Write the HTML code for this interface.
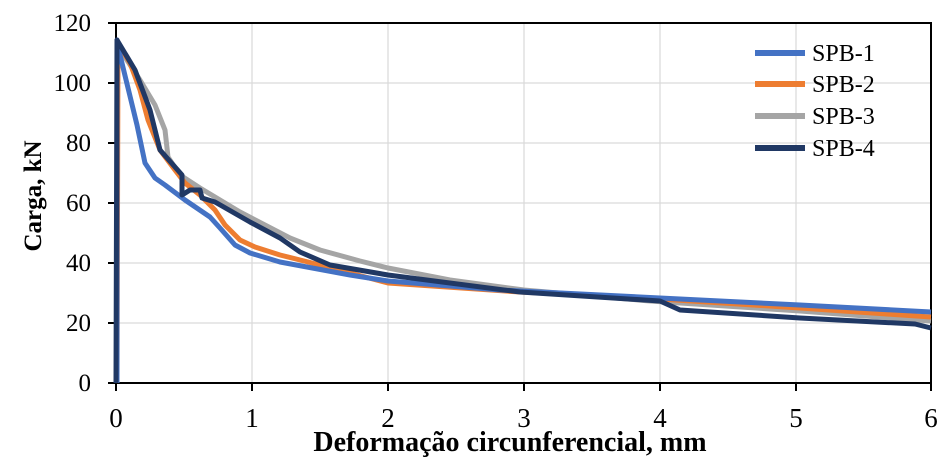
<!DOCTYPE html>
<html><head><meta charset="utf-8"><style>
html,body{margin:0;padding:0;background:#fff}
svg text{font-family:"Liberation Serif",serif}
</style></head><body>
<svg width="945" height="463" viewBox="0 0 945 463" xmlns="http://www.w3.org/2000/svg">
<g stroke="#d9d9d9" stroke-width="1.2">
<line x1="252" y1="23" x2="252" y2="383"/><line x1="388" y1="23" x2="388" y2="383"/><line x1="524" y1="23" x2="524" y2="383"/><line x1="660" y1="23" x2="660" y2="383"/><line x1="796" y1="23" x2="796" y2="383"/>
<line x1="116" y1="83" x2="931" y2="83"/><line x1="116" y1="143" x2="931" y2="143"/><line x1="116" y1="203" x2="931" y2="203"/><line x1="116" y1="263" x2="931" y2="263"/><line x1="116" y1="323" x2="931" y2="323"/>
</g>
<rect x="116" y="23" width="815" height="360" fill="none" stroke="#000" stroke-width="2"/>
<g stroke="#000" stroke-width="2">
<line x1="108" y1="23" x2="116" y2="23"/><line x1="108" y1="83" x2="116" y2="83"/><line x1="108" y1="143" x2="116" y2="143"/><line x1="108" y1="203" x2="116" y2="203"/><line x1="108" y1="263" x2="116" y2="263"/><line x1="108" y1="323" x2="116" y2="323"/><line x1="108" y1="383" x2="116" y2="383"/>
<line x1="116" y1="383" x2="116" y2="391"/><line x1="252" y1="383" x2="252" y2="391"/><line x1="388" y1="383" x2="388" y2="391"/><line x1="524" y1="383" x2="524" y2="391"/><line x1="660" y1="383" x2="660" y2="391"/><line x1="796" y1="383" x2="796" y2="391"/><line x1="931" y1="383" x2="931" y2="391"/>
</g>
<g font-size="25" text-anchor="end">
<text x="91" y="31">120</text><text x="91" y="91">100</text><text x="91" y="151">80</text><text x="91" y="211">60</text><text x="91" y="271">40</text><text x="91" y="331">20</text><text x="91" y="391">0</text>
</g>
<g font-size="27" text-anchor="middle">
<text x="116" y="427">0</text><text x="252" y="427">1</text><text x="388" y="427">2</text><text x="524" y="427">3</text><text x="660" y="427">4</text><text x="796" y="427">5</text><text x="931" y="427">6</text>
</g>
<text x="510" y="451" font-size="28" font-weight="bold" text-anchor="middle">Deformação circunferencial, mm</text>
<text transform="translate(41,196) rotate(-90)" font-size="25" font-weight="bold" text-anchor="middle">Carga, kN</text>
<g fill="none" stroke-width="5" stroke-linejoin="round">
<polyline stroke="#A5A5A5" points="117,383 117,45 140,80 155,105 165,130 168,157 180,175 200,188 240,212 290,238 320,250 360,261 388,268 450,280 524,290 650,301 800,311 931,321"/>
<polyline stroke="#ED7D31" points="117,383 118,43 130,63 140,90 148,120 160,150 175,170 185,183 200,195 215,210 225,225 240,240 255,247 280,255 320,265 388,283 520,292 660,299 800,308 931,317"/>
<polyline stroke="#4472C4" points="117,383 117,40 120,55 137,125 145,163 155,178 165,185 185,200 210,217 220,228 235,245 250,253 280,262 350,275 388,281 500,290 660,298 800,305 931,312"/>
<polyline stroke="#203864" points="116,383 117,40 135,70 150,110 160,150 175,167 182,175 182,195 190,190 200,190 202,198 215,202 250,222 280,238 300,252 330,265 388,275 520,292 660,301 680,310 800,318 915,324 931,328"/>
</g>
<g stroke-width="6">
<line x1="755" y1="53" x2="805" y2="53" stroke="#4472C4"/>
<line x1="755" y1="84" x2="805" y2="84" stroke="#ED7D31"/>
<line x1="755" y1="116" x2="805" y2="116" stroke="#A5A5A5"/>
<line x1="755" y1="148" x2="805" y2="148" stroke="#203864"/>
</g>
<g font-size="24">
<text x="812" y="61">SPB-1</text><text x="812" y="92">SPB-2</text><text x="812" y="124">SPB-3</text><text x="812" y="156">SPB-4</text>
</g>
</svg>
</body></html>
